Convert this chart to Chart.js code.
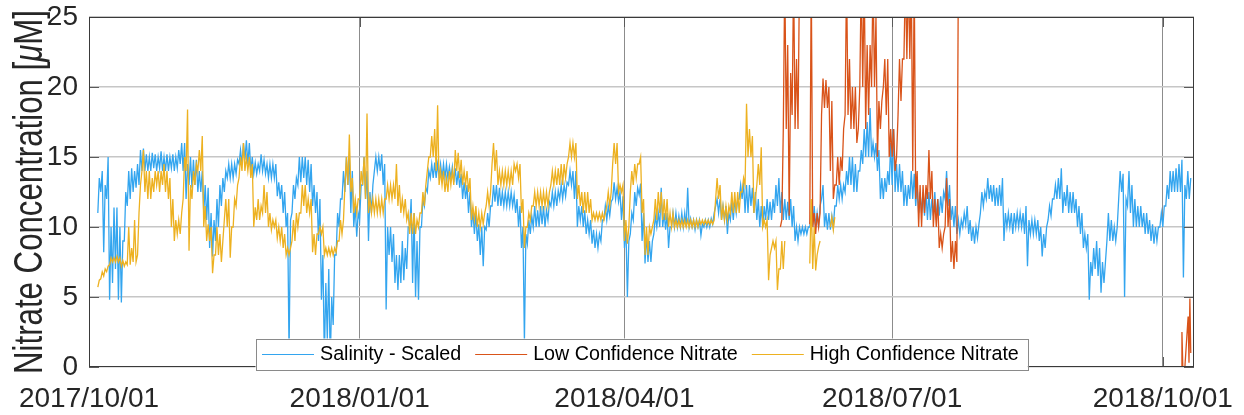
<!DOCTYPE html>
<html><head><meta charset="utf-8">
<script src="https://cdn.jsdelivr.net/npm/chart.js@4"></script>
<style>html,body{margin:0;padding:0;background:#fff;}#wrap{width:1244px;height:415px;}</style>
</head><body><div id="wrap"><canvas id="c" width="1244" height="415"></canvas></div>
<script>
// ---- data (days since 2017/10/01; daily low/high envelope) ----
const tickDays = [0, 92, 182, 273, 365];
const tickLabels = ['2017/10/01', '2018/01/01', '2018/04/01', '2018/07/01', '2018/10/01'];
const yTicks = [0, 5, 10, 15, 20, 25];
const xMaxDay = 375.6;

const salinityStartDay = 3;
const salinityLow = [
 11,12.5,8.2,12,4.8,6,7,4.8,4.6,9,
 11.5,12,12.5,12.8,13,14,14,14,14,14.2,
 14,14.2,14,14,14,14.2,14,14.2,14.5,14,
 12,13,12.8,13,12.5,12.5,11,10.5,8.5,7.9,
 9,10,11.5,12.5,13.5,13.5,13.5,13.8,14.5,14.5,
 14.8,14.5,14,13.8,13.8,14,14,13.8,13.5,13.5,
 13.5,12.2,12,11,10,1.0,11,12,13,13.2,
 13.5,13,12.5,11.5,11,9,4.8,0.5,2,0.3,
 3,8,10,12,12.5,13,11,10,9.3,10.5,
 13,12,9,11,14,14,14,13,4.1,8,
 7.5,6,5.5,6,6.2,7,10,6,5,4.8,
 10,11.5,12.5,13.5,13.5,13.5,13.6,13.5,13.5,13.5,
 13.5,13.2,13,12.8,12,12,11,10,9.5,9,
 8,7.2,9.8,10,11.5,11.8,11.5,11.5,11.5,11.5,
 11.5,11.5,11,10,8.5,1.8,8.8,9.5,10,10,
 10,10.2,10,10.5,11.5,11.5,11.5,12,12,12.2,
 13,13,12,10,10.5,10,9.5,9.5,8.8,8.5,
 8.5,9,10.5,10.5,10.8,12,12,11.8,10.5,8.5,
 5,9.5,10.5,11.5,12.3,9,7.4,7.5,7.5,9.5,
 10,10,10,9.8,8.5,10,10,10,10,10,
 10,10,10,9.8,10,9.4,10,10,10,10.2,
 11.5,11,10.5,10.5,9.5,10.5,10.5,11,12,12,
 11,11,11.5,11,10.5,10,10,10.5,10.5,10.5,
 11,11.5,11,10.5,10.5,10.5,10,9,9,9.5,
 9.5,9.5,10,10,10,10,12,10,9.8,9.8,
 10,11.5,12,12,12.5,13,13,12.5,12.5,14,
 14.5,15,15,15,15,14,12,12,12.5,13,
 13,12.5,12.5,12.5,11.5,11.5,12,12,11.5,11,
 11,10.8,10.5,10.5,10.8,10.5,10.8,11,12,11.5,
 10.5,10,9.5,9.5,10,10.2,9.5,9,8.8,9.2,
 11,11.5,12,12,11.8,11.5,11.5,11.5,9,10,
 10,9.5,10,10,10,9.5,7.2,9.5,9.5,9.5,
 9,7.9,8.5,10.5,10.8,12,12,12,11,11.5,
 11,11,11,10,9.5,8.5,8.5,4.8,6.5,7,
 6.5,5.3,6,9,9,9,9,12,12.5,5,
 11.5,11,10,10,10,10,9.5,9.5,9,8.8,
 9,10,10,11.5,12,12.5,12.5,12.5,12.5,6.4,
 12,12
];
const salinityHigh = [
 13.5,14,13,15,10,11.4,11.4,10,9,12.5,
 14,14.2,14,14.5,15.5,15.6,15.2,15,15.3,15.2,
 15,15.4,15,15.2,15,15.2,15,15.5,16,16,
 14.5,15,14.8,14.8,14,14,13,12.8,11,10.5,
 12,13,13.5,14,14.5,14.5,14.5,14.8,15.5,16,
 16.2,16,15,14.6,14.5,15.2,14.8,14.5,14.5,14.5,
 14.5,13.2,13,12.5,11,10.5,13,13.5,15,15,
 15,14.8,14.5,13,12.5,12,8,6,7,5,
 8,11,12,14,15,15,14,11.5,11,13,
 15,14,12.5,13,15,15,15.2,14.5,10,10,
 9.5,8,8,9,8.5,10,12,11,9,10,
 12,12.8,14,14.5,14.6,14.5,14.5,14.5,14.5,14.3,
 14.3,14.2,14,13.8,13.2,13,12.5,11.2,11,10.2,
 10,10,11,11.5,13,13,12.8,12.5,12.5,12.5,
 12.5,12.3,12,11.5,10,9.5,10.5,10.8,11.5,11.2,
 11.5,11.5,11.2,11.8,12.5,12.5,12.6,13,13,13.2,
 14,14,14,11.5,11.5,11.2,10.5,10.5,9.8,9.5,
 9.5,10.5,11.5,11.5,11.8,13.2,12.8,12.5,12.2,10,
 9,11,12.5,12.8,13.1,11,9.5,9,9,10.8,
 11,12.8,11,11,10,11,11,10.8,11,11,
 12.8,10.6,10.5,10.5,10.5,10.2,10.5,10.5,10.6,11,
 12,12,11.5,11.5,11,11.8,12,12,13,13.2,
 13,13,12.8,12.5,12,11.5,11.5,12,11.8,12,
 13,13.5,12.5,12,11.8,12,11.5,10,10,10,
 10,10,11,11.5,11,11.5,13,11,11,10.8,
 11.5,13,13,13,14,15,15,14.5,14,15.5,
 17,17.5,18.5,16,16,15.5,13.5,13.5,14,16,
 17,14.5,14.5,14,13,13,14,13.8,13,12.5,
 12.5,12.5,12.5,12,12.5,12,12.2,12.5,14,13,
 11.5,11.5,10.5,10.5,11,11.5,10.5,10,10,10.2,
 12.5,12.5,13.5,13,13,12.8,13,13.5,11,11,
 11,11,11,11,11,11.5,10.5,10.5,10.5,10.5,
 10,9.5,10,11.5,12,13,13.5,14.2,12.5,13,
 12.5,12.5,12,11.5,11,9.5,9.5,7.5,8.5,9,
 8.5,7.5,7.5,11,10.5,10,10,14,13.8,12,
 14,13,12,11.5,11.5,11,11,10.5,10.2,10,
 10,11,11.5,13,14,14,14.2,14.5,14.8,13,
 14,13.5
];

const highStartDay = 3;
const highConfLow = [
 5.7,6.3,6.5,6.8,7.3,7.5,7.5,7.5,7.2,7.2,
 7.3,7.3,7.5,7.5,11,14,12.5,12,12,12.5,
 13,12.5,13,12.5,12,10,9,9.5,9.5,12,
 14,8.3,12,13,14,14,10,9,9,6.7,
 8,8,7.5,10.5,10,7.8,10,11.5,13.5,14,
 14,14,13.5,10,10.5,10.5,11,11,10,9.8,
 10,9.2,9,8.5,8,8,9,9,10,11,
 11.5,11,11,8.2,8,9.5,9.5,8,8,8,
 8,8.2,9,9.5,13,13,12.5,11,11,12,
 13,12,11,11,11,11,11,11,12,12,
 12,12,11.5,11,11,10.5,9.5,9.5,9.5,10,
 11,11.5,14,15,15,14,13,13,12.5,12.5,
 13,13,14,13.5,13,13,12.5,10.5,10.5,10,
 10,10.2,11.5,11.5,14.5,14,13,13,13,13,
 13,13,14,13.5,11,8.5,10,10.5,11.5,11.5,
 11.5,11.5,11.5,11.5,13,13,13,13,13,13.5,
 15,15,15,12,11.5,11,11,11,10.5,10.5,
 10.5,10.5,10.5,11.5,11.5,14.5,14.5,12.5,12.5,9,
 8.8,12.5,13,13.5,14.5,11,8,8,9.5,10.5,
 10.5,11,10.5,10.5,10,10,10,10,10,10,
 10,10,10,10,10,10.2,10.2,10.2,10.2,10.2,
 12,12,10.5,10.5,10.5,11,11,11,11,12.5,
 13,15,15,11,13,13,10,10,6.2,8.5,
 8.5,5.5,7,7,null,null,null,null,null,null,
 null,null,7.4,7,6.9,8.6,null,null,null,10,
 9.8
];
const highConfHigh = [
 6.2,6.8,7,7.2,7.8,7.8,7.9,7.8,7.6,7.5,
 10,8.5,10.5,8,13,15.5,14,14,13.5,14,
 14,14,14.5,14,13.5,12,10.5,10.5,11,15,
 18.4,13,14,14.5,15.5,16.5,11.5,10.2,10,8,
 10,9.5,9,12,12,10,12,13,15,16,
 15,15,14.5,11.4,12,11.5,13,12.5,11,10.5,
 10.5,10,10,9.5,8.5,8.5,10.5,11,11,13,
 13,12,12,9.5,9.5,10,10,8.5,8.5,8.5,
 8.5,9,10.5,10.5,15,16.6,13.5,12,12,14,
 15,18.1,12,12,12,12,12,12,13,13,
 13,14.5,13,12,12,11,11,11,10.5,11,
 12.5,13,15,16.5,17,18.7,14,14,13.5,14,
 14,15.5,15.3,14.8,14,14,13.5,11.5,11.5,11,
 11,11,12.5,12.5,16,15.5,14,14,14,14,
 14,14.5,14.5,14.5,12,10,11,11.5,12.5,12.5,
 12.5,12.5,12.5,12.5,14,14,14.2,14.5,14.5,14.5,
 16,16,16,13,12.5,12.5,12.5,12,11,11,
 11,11,11,12.5,12.5,16,16,13,13,10.5,
 10,14,14.5,14.5,15,12,10,10,10,12,
 12.5,12.5,12,12,11,11,10.5,10.5,10.5,10.5,
 10.5,10.5,10.5,10.5,10.5,10.5,10.5,10.5,10.5,10.5,
 13.5,13,11.5,11.5,11.5,12.5,12.5,12.5,12.5,13.5,
 18.8,17,16.5,12,14.5,15.7,10.5,10.5,8,9,
 9,7,9,9,null,null,null,null,null,null,
 null,null,12,10,8,9,null,null,null,10.7,
 10.7
];

const lowStartDay = 235;
const lowConfLow = [
 10,17,17,10.8,18,17,17,null,null,null,
 10.2,10,9.5,10,18,18.5,18.5,14,12,13,
 13,14,18,18,17,17,16,20,20,17,
 18,20,20,15,17,20,18,15,15,14,
 18,19,22,22,22,14,12,10,10,11,
 12,12,10,10,8.5,8.5,10,10,7.5,7,
 7.5
];
const lowConfHigh = [
 10.5,28,23,21,28,22,28,null,null,null,
 28,11,11,11,20.6,20.5,20,19,13,15,
 15,17,28,22,20,20,17,28,28,23,
 23,28,25,19,19,22,22,17,17,15,
 22,22,28,28,28,28,14,13,13,13,
 15.5,14,12,12,9.5,9.5,13.5,12,9,9,
 28
];
const lowOctDays = [371.3, 371.5, 371.8, 372.5, 373.6, 373.9, 374.2, 374.5];
const lowOctVals = [0, 2.5, 0, 0, 3.6, 0.3, 4.9, 1.0];

// ---- build ----
const FONT = '"Liberation Sans", Arial, Helvetica, sans-serif';
const TXT = '#262626';
function envelope(start, lo, hi) {
  const pts = [];
  lo.forEach((v, i) => {
    pts.push({ x: start + i, y: v });
    pts.push({ x: start + i + 0.5, y: hi[i] });
  });
  return pts;
}
const salPts = envelope(salinityStartDay, salinityLow, salinityHigh);
const highPts = envelope(highStartDay, highConfLow, highConfHigh);
const lowPts = envelope(lowStartDay, lowConfLow, lowConfHigh)
  .concat([{ x: (lowStartDay + lowConfLow.length + lowOctDays[0]) / 2, y: null }])
  .concat(lowOctDays.map((d, i) => ({ x: d, y: lowOctVals[i] })));

const decor = {
  id: 'decor',
  afterDraw(chart) {
    const ctx = chart.ctx, a = chart.chartArea;
    const xs = chart.scales.x, ys = chart.scales.y;
    ctx.save();
    // inner tick marks on all four sides
    ctx.strokeStyle = '#5a5a5a'; ctx.lineWidth = 1;
    ctx.beginPath();
    yTicks.forEach(v => {
      const y = Math.round(ys.getPixelForValue(v)) + 0.5;
      ctx.moveTo(a.left, y); ctx.lineTo(a.left + 10, y);
      ctx.moveTo(a.right - 10, y); ctx.lineTo(a.right, y);
    });
    tickDays.forEach(d => {
      const x = Math.round(xs.getPixelForValue(d)) + 0.5;
      ctx.moveTo(x, a.top); ctx.lineTo(x, a.top + 10);
      ctx.moveTo(x, a.bottom - 10); ctx.lineTo(x, a.bottom);
    });
    ctx.stroke();
    // axes box
    ctx.strokeStyle = '#3a3a3a';
    ctx.strokeRect(Math.round(a.left) + 0.5, Math.round(a.top) + 0.5,
      Math.round(a.right - a.left) - 1, Math.round(a.bottom - a.top) - 1);

    // y-axis title (tall, condensed glyphs), italic mu
    ctx.save();
    ctx.translate(a.left - 47.5, (a.top + a.bottom) / 2);
    ctx.rotate(-Math.PI / 2);
    ctx.scale(0.78, 1);
    ctx.fillStyle = TXT;
    ctx.textBaseline = 'alphabetic';
    const parts = [['Nitrate Concentration [', 'normal'], ['\u03bc', 'italic'], ['M]', 'normal']];
    let tot = 0;
    parts.forEach(p => { ctx.font = p[1] + ' 40px ' + FONT; p.push(ctx.measureText(p[0]).width); tot += p[2]; });
    let px = -tot / 2;
    parts.forEach(p => { ctx.font = p[1] + ' 40px ' + FONT; ctx.fillText(p[0], px, 0); px += p[2]; });
    ctx.restore();

    // legend box inside the axes, bottom centre
    const items = chart.data.datasets.map(ds => ({ label: ds.label, color: ds.borderColor }));
    ctx.font = '19.7px ' + FONT;
    const bl = a.left + 166.5, bt = a.bottom - 28.5, bh = 31;
    let x = bl + 6.5;
    const ym = bt + bh / 2;
    const lay = items.map(it => { const w = ctx.measureText(it.label).width; const o = { it, x, w }; x += 58 + w + 14; return o; });
    const br = x - 14 + 9;
    ctx.fillStyle = '#ffffff';
    ctx.fillRect(bl, bt, br - bl, bh);
    ctx.strokeStyle = '#8a8a8a'; ctx.lineWidth = 1;
    ctx.strokeRect(Math.round(bl) + 0.5, Math.round(bt) + 0.5, Math.round(br - bl), bh);
    lay.forEach(o => {
      ctx.strokeStyle = o.it.color; ctx.lineWidth = 1;
      ctx.beginPath(); ctx.moveTo(o.x, Math.round(ym) + 0.5); ctx.lineTo(o.x + 52, Math.round(ym) + 0.5); ctx.stroke();
      ctx.fillStyle = '#000000'; ctx.textBaseline = 'middle';
      ctx.fillText(o.it.label, o.x + 58, ym + 1);
    });
    ctx.restore();
  }
};

new Chart(document.getElementById('c'), {
  type: 'line',
  data: {
    datasets: [
      { label: 'Salinity - Scaled', data: salPts, borderColor: '#33a5ef', borderWidth: 1.3, order: 3, clip: 0 },
      { label: 'Low Confidence Nitrate', data: lowPts, borderColor: '#d95319', borderWidth: 1.3, order: 2, clip: 0 },
      { label: 'High Confidence Nitrate', data: highPts, borderColor: '#edb120', borderWidth: 1.3, order: 1, clip: 0 }
    ]
  },
  options: {
    responsive: false, animation: false, devicePixelRatio: 1,
    layout: { padding: { left: 0, right: 50, top: 17, bottom: 0 } },
    plugins: { legend: { display: false }, tooltip: { enabled: false } },
    elements: { point: { radius: 0 }, line: { tension: 0 } },
    spanGaps: false,
    scales: {
      x: {
        type: 'linear', min: 0, max: xMaxDay,
        afterBuildTicks: s => { s.ticks = tickDays.map(v => ({ value: v })); },
        afterFit: s => { s.height = 48; s.paddingLeft = 0; s.paddingRight = 0; },
        ticks: {
          autoSkip: false, maxRotation: 0, padding: 15, color: TXT,
          font: { size: 28, family: FONT },
          callback: v => tickLabels[tickDays.indexOf(v)]
        },
        grid: { color: '#8c8c8c', lineWidth: 1, drawTicks: false },
        border: { display: false }
      },
      y: {
        min: 0, max: 25,
        afterBuildTicks: s => { s.ticks = yTicks.map(v => ({ value: v })); },
        afterFit: s => { s.width = 89; s.paddingTop = 0; s.paddingBottom = 0; },
        ticks: { padding: 11, color: TXT, font: { size: 28, family: FONT } },
        grid: { color: '#c6c6c6', lineWidth: 1.5, drawTicks: false },
        border: { display: false }
      }
    }
  },
  plugins: [decor]
});
</script>
</body></html>
